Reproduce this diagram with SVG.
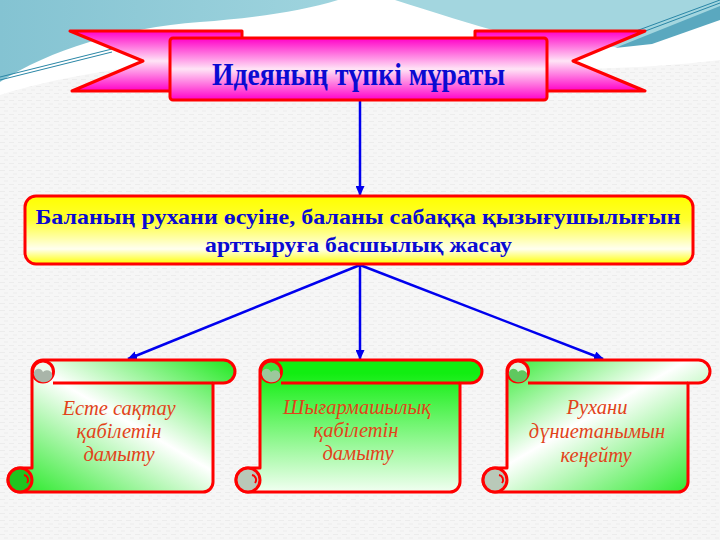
<svg xmlns="http://www.w3.org/2000/svg" width="720" height="540" viewBox="0 0 720 540">
<style>
.ttl{font-family:"Liberation Serif","DejaVu Serif",serif;font-weight:bold;fill:#0a0ad2}
.scr{font-family:"Liberation Serif","DejaVu Serif",serif;font-style:italic;font-size:20.5px;fill:#e2431a;text-anchor:middle}
.red{stroke:#ff0000;stroke-width:3;stroke-linejoin:round}
.con{stroke:#0000ee;stroke-width:2.5;fill:none;marker-end:url(#ah)}
</style>
<defs>
<pattern id="tex" width="9" height="7" patternUnits="userSpaceOnUse">
<rect width="9" height="7" fill="#f6f6f6"/>
<path d="M0 2.5h5M4 6h4" stroke="#ececec" stroke-width="1"/>
</pattern>
<linearGradient id="pink" x1="0" y1="0" x2="0" y2="1">
<stop offset="0" stop-color="#ff00c8"/><stop offset="0.5" stop-color="#ffe4f6"/><stop offset="1" stop-color="#ff00c8"/>
</linearGradient>
<linearGradient id="yel" x1="0" y1="0" x2="0" y2="1">
<stop offset="0" stop-color="#ffff00"/><stop offset="0.35" stop-color="#ffff30"/><stop offset="0.78" stop-color="#fffff0"/><stop offset="1" stop-color="#ffff00"/>
</linearGradient>
<linearGradient id="gdL" x1="0" y1="1" x2="1" y2="0">
<stop offset="0" stop-color="#1ee81e"/><stop offset="0.53" stop-color="#ffffff"/><stop offset="1" stop-color="#1ee81e"/>
</linearGradient>
<linearGradient id="gdR" x1="0" y1="0" x2="1" y2="1">
<stop offset="0" stop-color="#1ee81e"/><stop offset="0.45" stop-color="#ffffff"/><stop offset="1" stop-color="#1ee81e"/>
</linearGradient>
<linearGradient id="gv" x1="0" y1="0" x2="0" y2="1">
<stop offset="0.1" stop-color="#11ee11"/><stop offset="1" stop-color="#f2fff2"/>
</linearGradient>
<linearGradient id="teal" x1="0" y1="0" x2="1" y2="0">
<stop offset="0" stop-color="#84c3d2"/><stop offset="1" stop-color="#9fd4de"/>
</linearGradient>
<marker id="ah" markerUnits="userSpaceOnUse" markerWidth="10" markerHeight="9" refX="9" refY="4.5" orient="auto">
<path d="M0 0L10 4.5L0 9Z" fill="#0000ee"/>
</marker>
</defs>

<!-- background -->
<rect width="720" height="540" fill="url(#tex)"/>
<path d="M0 0H720V60C600 75 420 70 300 60C200 55 80 70 0 95Z" fill="#ffffff"/>
<path d="M0 0H338C300 12 250 18 200 22C120 28 50 50 0 82Z" fill="url(#teal)"/>
<path d="M395 0C440 14 480 28 525 38C575 48 620 50 650 42L720 16V0Z" fill="#a3d6df"/>
<path d="M615 48L720 6V20L652 44Z" fill="#5aa8bf"/>
<path d="M0 77L112 49M0 80L112 52" stroke="#2a86a6" stroke-width="1"/>
<path d="M636 31L720 0M640 33L720 3" stroke="#2a86a6" stroke-width="1"/>

<!-- connectors -->
<g id="connectors">
<line class="con" x1="360" y1="101" x2="360" y2="195"/>
<line class="con" x1="360" y1="265" x2="128" y2="359"/>
<line class="con" x1="360" y1="265" x2="360" y2="359"/>
<line class="con" x1="360" y1="265" x2="603" y2="359"/>
</g>

<!-- title banner -->
<g id="title">
<path class="red" d="M70 31H242V91H72L143 61Z" fill="url(#pink)"/>
<path class="red" d="M475 31H645L573 61L645 91H475Z" fill="url(#pink)"/>
<rect class="red" x="170" y="38" width="377" height="62" rx="3" fill="url(#pink)"/>
<text class="ttl" x="358.5" y="85" font-size="32" text-anchor="middle" textLength="293" lengthAdjust="spacingAndGlyphs">Идеяның түпкі мұраты</text>
</g>

<!-- goal box -->
<g id="goal">
<rect class="red" x="25" y="196" width="668" height="68" rx="11" fill="url(#yel)"/>
<text class="ttl" x="358" y="224" font-size="21.5" text-anchor="middle" textLength="645" lengthAdjust="spacingAndGlyphs">Баланың рухани өсуіне, баланы сабаққа қызығушылығын</text>
<text class="ttl" x="358.5" y="252" font-size="21.5" text-anchor="middle" textLength="307" lengthAdjust="spacingAndGlyphs">арттыруға басшылық жасау</text>
</g>

<!-- scroll 1 -->
<g id="scroll1">
<path class="red" d="M43 360H223.5A11.5 11.5 0 0 1 223.5 383H213V482A10 10 0 0 1 203 492H20A12 12 0 0 1 20 468H32V371A11 11 0 0 1 43 360Z" fill="url(#gdL)"/>
<path d="M53 383H213" class="red" fill="none"/>
<circle class="red" cx="43" cy="371.5" r="10.5" fill="#eefaee"/>
<path d="M34 375A10 10 0 0 0 51 379A5 5 0 0 0 43 372A4.5 4.5 0 0 0 34 375Z" fill="#a9b5a9"/>
<circle class="red" cx="20" cy="480" r="12" fill="#1fc41f"/>
<path d="M24 475A5 5 0 0 1 27 483" stroke="#ff0000" stroke-width="2" fill="none"/>
<text class="scr" x="119" y="415">Есте сақтау</text>
<text class="scr" x="119" y="438">қабілетін</text>
<text class="scr" x="119" y="461">дамыту</text>
</g>

<!-- scroll 2 -->
<g id="scroll2">
<path class="red" d="M271 360H470.5A11.5 11.5 0 0 1 470.5 383H460V482A10 10 0 0 1 450 492H248A12 12 0 0 1 248 468H260V371A11 11 0 0 1 271 360Z" fill="url(#gv)"/>
<path d="M281 383H460" class="red" fill="none"/>
<circle class="red" cx="271" cy="371.5" r="10.5" fill="#3ee03e"/>
<path d="M262 375A10 10 0 0 0 279 379A5 5 0 0 0 271 372A4.5 4.5 0 0 0 262 375Z" fill="#9cc89c"/>
<circle class="red" cx="248" cy="480" r="12" fill="#b9c9b9"/>
<path d="M252 475A5 5 0 0 1 255 483" stroke="#ff0000" stroke-width="2" fill="none"/>
<text class="scr" x="357" y="414">Шығармашылық</text>
<text class="scr" x="356" y="437">қабілетін</text>
<text class="scr" x="358" y="460">дамыту</text>
</g>

<!-- scroll 3 -->
<g id="scroll3">
<path class="red" d="M518 360H698.5A11.5 11.5 0 0 1 698.5 383H688V482A10 10 0 0 1 678 492H495A12 12 0 0 1 495 468H507V371A11 11 0 0 1 518 360Z" fill="url(#gdR)"/>
<path d="M528 383H688" class="red" fill="none"/>
<circle class="red" cx="518" cy="371.5" r="10.5" fill="#dff5df"/>
<path d="M509 375A10 10 0 0 0 526 379A5 5 0 0 0 518 372A4.5 4.5 0 0 0 509 375Z" fill="#5fc85f"/>
<circle class="red" cx="495" cy="480" r="12" fill="#b9c9b9"/>
<path d="M499 475A5 5 0 0 1 502 483" stroke="#ff0000" stroke-width="2" fill="none"/>
<text class="scr" x="597" y="414">Рухани</text>
<text class="scr" x="597" y="438">дүниетанымын</text>
<text class="scr" x="596" y="462">кеңейту</text>
</g>
</svg>
